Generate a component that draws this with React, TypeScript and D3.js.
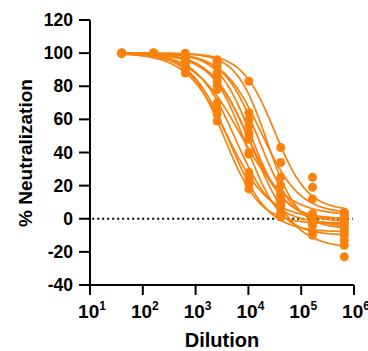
import React from "react";
import * as d3 from "d3";

const dilutions = [40, 160, 640, 2560, 10240, 40960, 163840, 655360];

// per-sample fit parameters (log10 IC50, Hill slope, bottom plateau); top = 100
const logIC50s = [3.55, 3.6, 3.65, 3.75, 3.85, 3.95, 4.0, 4.05, 4.1, 4.2, 4.25, 4.35, 4.5];
const hillSlopes = [1.3, 1.1, 1.2, 1.2, 1.0, 1.3, 1.2, 1.4, 1.1, 1.3, 1.2, 1.5, 1.4];
const bottoms = [-3, 0, -8, -3, 2, -10, -2, 0, -18, -5, 3, -6, 5];

// measured % neutralization per sample at each dilution
const s1 = [100, 100, 90, 59, 18, 1, -3, -4];
const s2 = [100, 100, 88, 63, 24, 6, 2, -2];
const s3 = [100, 100, 92, 66, 21, 3, -4, -10];
const s4 = [100, 100, 94, 70, 28, 8, -1, -6];
const s5 = [100, 100, 91, 78, 40, 15, 12, 2];
const s6 = [100, 100, 97, 86, 39, 2, -8, -13];
const s7 = [100, 100, 95, 83, 48, 12, 3, 0];
const s8 = [100, 100, 98, 88, 52, 14, 1, -3];
const s9 = [100, 100, 96, 80, 50, 10, -10, -23];
const s10 = [100, 100, 99, 92, 56, 20, 0, -8];
const s11 = [100, 100, 98, 94, 60, 34, 19, 4];
const s12 = [100, 100, 99, 95, 64, 25, -2, -16];
const s13 = [100, 100, 100, 96, 83, 43, 25, 3];
const samples = [s1, s2, s3, s4, s5, s6, s7, s8, s9, s10, s11, s12, s13];

const yTicks = [-40, -20, 0, 20, 40, 60, 80, 100, 120];
const xExponents = [1, 2, 3, 4, 5, 6];

const COLOR = "#F9820F";
const FONT = "'Liberation Sans', Arial, sans-serif";

export default function App() {
  const x = d3.scaleLog().domain([10, 1e6]).range([90, 354]);
  const y = d3.scaleLinear().domain([-40, 120]).range([285, 20]);

  const lx0 = Math.log10(dilutions[0]);
  const lx1 = Math.log10(dilutions[dilutions.length - 1]);
  const steps = d3.range(0, 121).map((i) => lx0 + ((lx1 - lx0) * i) / 120);

  const line = d3
    .line<[number, number]>()
    .x((d) => x(Math.pow(10, d[0])))
    .y((d) => y(d[1]))
    .curve(d3.curveBasis);

  const curves = logIC50s.map((ic, k) => {
    const h = hillSlopes[k];
    const b = bottoms[k];
    const pts: [number, number][] = steps.map((lx) => [
      lx,
      b + (100 - b) / (1 + Math.pow(10, (lx - ic) * h)),
    ]);
    return line(pts) as string;
  });

  return (
    <div style={{ position: "fixed", left: 0, top: 0 }}>
      <svg width={368} height={351} style={{ display: "block", background: "#fff" }}>
        {/* zero reference line */}
        <line
          x1={x(11)}
          x2={x(950000)}
          y1={y(0)}
          y2={y(0)}
          stroke="#000"
          strokeWidth={2}
          strokeDasharray="2,3"
        />
        {/* fit curves */}
        {curves.map((d, i) => (
          <path key={"c" + i} d={d} fill="none" stroke={COLOR} strokeWidth={1.7} />
        ))}
        {/* points */}
        {samples.map((vals, i) =>
          vals.map((v, j) => (
            <circle key={"p" + i + "-" + j} cx={x(dilutions[j])} cy={y(v)} r={4.5} fill={COLOR} />
          ))
        )}
        {/* y axis */}
        <line x1={90} x2={90} y1={y(120)} y2={y(-40)} stroke="#000" strokeWidth={2} />
        {yTicks.map((t) => (
          <g key={"yt" + t}>
            <line x1={79} x2={90} y1={y(t)} y2={y(t)} stroke="#000" strokeWidth={2} />
            <text
              x={73}
              y={y(t) + 6}
              textAnchor="end"
              fontFamily={FONT}
              fontWeight="bold"
              fontSize={17.5}
              fill="#000"
            >
              {t}
            </text>
          </g>
        ))}
        {/* x axis */}
        <line x1={x(10)} x2={x(1e6)} y1={285} y2={285} stroke="#000" strokeWidth={2} />
        {xExponents.map((e) => (
          <g key={"xt" + e}>
            <line x1={x(Math.pow(10, e))} x2={x(Math.pow(10, e))} y1={285} y2={295} stroke="#000" strokeWidth={2} />
            <text
              x={x(Math.pow(10, e)) + 2}
              y={318}
              textAnchor="middle"
              fontFamily={FONT}
              fontWeight="bold"
              fontSize={19}
              fill="#000"
            >
              <tspan>10</tspan>
              <tspan dy={-8} fontSize={12}>
                {e}
              </tspan>
            </text>
          </g>
        ))}
        {/* axis titles */}
        <text
          x={222}
          y={347}
          textAnchor="middle"
          fontFamily={FONT}
          fontWeight="bold"
          fontSize={20}
          fill="#000"
        >
          Dilution
        </text>
        <text
          transform={`translate(32, 153) rotate(-90)`}
          textAnchor="middle"
          fontFamily={FONT}
          fontWeight="bold"
          fontSize={19}
          fill="#000"
        >
          % Neutralization
        </text>
      </svg>
    </div>
  );
}
